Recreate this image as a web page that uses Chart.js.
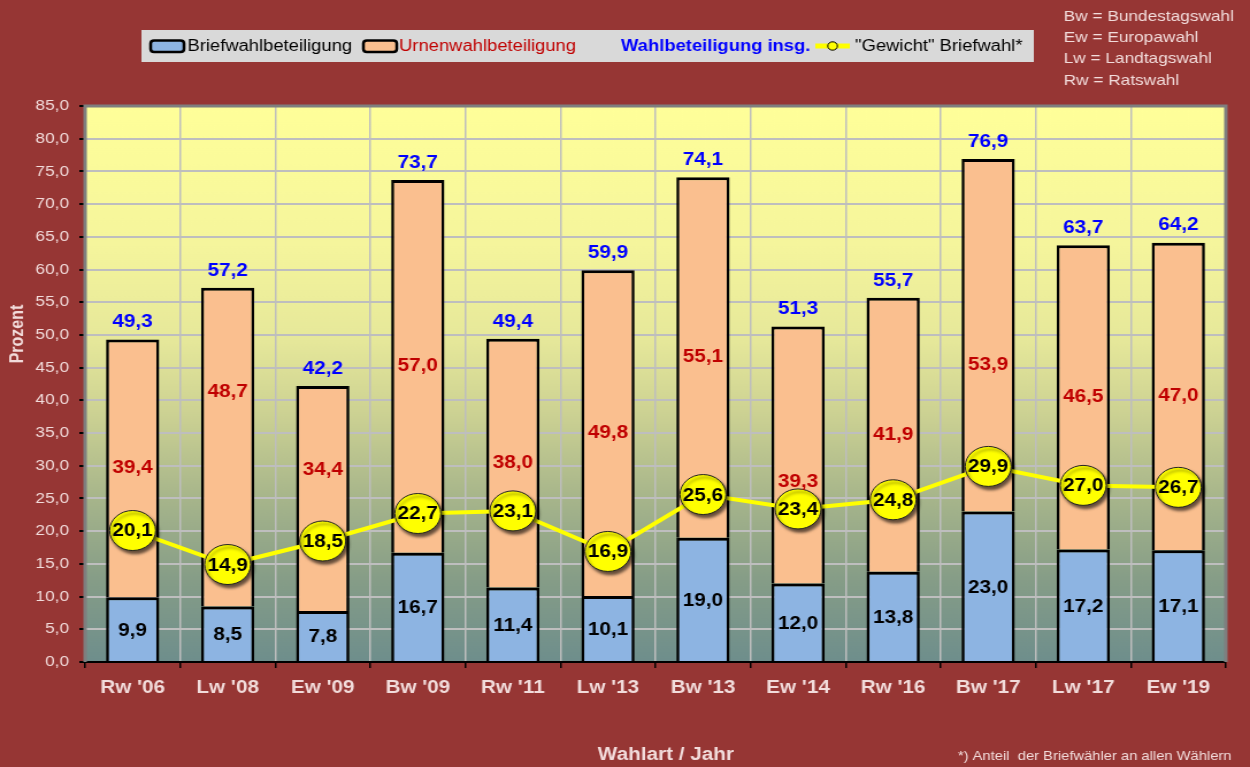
<!DOCTYPE html>
<html><head><meta charset="utf-8">
<script src="https://cdn.jsdelivr.net/npm/chart.js@4.4.1/dist/chart.umd.min.js"></script>
<style>
html,body{margin:0;padding:0;background:#963634;overflow:hidden;width:1250px;height:767px}
#wrap{position:absolute;left:0;top:0;width:1087px;height:767px;transform:scaleX(1.14995);transform-origin:0 0}
canvas{display:block}
</style></head><body>
<div id="wrap"><canvas id="c" width="1087" height="767"></canvas></div>
<script>
const categories = ["Rw '06","Lw '08","Ew '09","Bw '09","Rw '11","Lw '13","Bw '13","Ew '14","Rw '16","Bw '17","Lw '17","Ew '19"];
const briefwahl = [9.9, 8.5, 7.8, 16.7, 11.4, 10.1, 19.0, 12.0, 13.8, 23.0, 17.2, 17.1];
const urnenwahl = [39.4, 48.7, 34.4, 57.0, 38.0, 49.8, 55.1, 39.3, 41.9, 53.9, 46.5, 47.0];
const insgesamt = [49.3, 57.2, 42.2, 73.7, 49.4, 59.9, 74.1, 51.3, 55.7, 76.9, 63.7, 64.2];
const gewicht = [20.1, 14.9, 18.5, 22.7, 23.1, 16.9, 25.6, 23.4, 24.8, 29.9, 27.0, 26.7];
const yMin = 0, yMax = 85, yStep = 5;
const legendLabels = ["Briefwahlbeteiligung", "Urnenwahlbeteiligung", "Wahlbeteiligung insg.", "\"Gewicht\" Briefwahl*"];
const abbreviations = ["Bw = Bundestagswahl", "Ew = Europawahl", "Lw = Landtagswahl", "Rw = Ratswahl"];
const yTitle = "Prozent";
const xTitle = "Wahlart / Jahr";
const footnote = "*) Anteil  der Briefwähler an allen Wählern";

const FAM = '"Liberation Sans", Arial, sans-serif';
Chart.defaults.font.family = FAM;
const fmt = v => Number(v).toFixed(1).replace('.', ',');
const LIGHT = '#F2DCDB';

const bgPlugin = {
  id: 'bg',
  beforeDraw(chart) {
    const {ctx, chartArea: a} = chart;
    ctx.save();
    ctx.fillStyle = '#963634';
    ctx.fillRect(0, 0, chart.width, chart.height);
    const g = ctx.createLinearGradient(0, a.top, 0, a.bottom);
    g.addColorStop(0, '#FFFF99');
    g.addColorStop(0.25, '#F5F59C');
    g.addColorStop(0.42, '#E6E89A');
    g.addColorStop(0.55, '#CDD293');
    g.addColorStop(0.7, '#A8B68B');
    g.addColorStop(0.85, '#869D87');
    g.addColorStop(1, '#6E8E8C');
    ctx.fillStyle = g;
    ctx.fillRect(a.left, a.top, a.right - a.left, a.bottom - a.top);
    ctx.restore();
  },
  beforeDatasetsDraw(chart) {
    const {ctx, chartArea: a} = chart;
    ctx.save();
    ctx.strokeStyle = '#7F7F7F';
    ctx.lineWidth = 3;
    ctx.beginPath();
    ctx.moveTo(a.left, a.bottom);
    ctx.lineTo(a.left, a.top);
    ctx.lineTo(a.right, a.top);
    ctx.lineTo(a.right, a.bottom);
    ctx.stroke();
    ctx.restore();
  }
};

const shadowPlugin = {
  id: 'shadow',
  beforeDatasetDraw(chart, args) {
    if (args.index === 3) {
      const ctx = chart.ctx;
      ctx.save();
      ctx.shadowColor = 'rgba(0,0,0,0.6)';
      ctx.shadowOffsetX = 2;
      ctx.shadowOffsetY = 3;
      ctx.shadowBlur = 3;
    }
  },
  afterDatasetDraw(chart, args) {
    if (args.index === 3) chart.ctx.restore();
  }
};

const labelPlugin = {
  id: 'vlabels',
  afterDatasetsDraw(chart, args, opts) {
    const ctx = chart.ctx, ys = chart.scales.y;
    const mB = chart.getDatasetMeta(0), mU = chart.getDatasetMeta(1), mP = chart.getDatasetMeta(3);
    ctx.save();
    ctx.textAlign = 'center';
    ctx.textBaseline = 'middle';
    ctx.font = 'bold 18px ' + FAM;
    for (let i = 0; i < categories.length; i++) {
      const b = mB.data[i], u = mU.data[i], p = mP.data[i];
      ctx.fillStyle = '#000';
      ctx.fillText(fmt(briefwahl[i]), b.x, ys.getPixelForValue(briefwahl[i] / 2) + 1);
      const mid = briefwahl[i] + urnenwahl[i] / 2 + opts.urneShift[i];
      ctx.fillStyle = '#C00000';
      ctx.fillText(fmt(urnenwahl[i]), u.x, ys.getPixelForValue(mid));
      ctx.fillStyle = '#0000FF';
      ctx.fillText(fmt(insgesamt[i]), u.x, ys.getPixelForValue(insgesamt[i]) - 17);
      ctx.fillStyle = '#000';
      ctx.fillText(fmt(gewicht[i]), p.x, p.y + 1);
    }
    ctx.restore();
  }
};

function rr(ctx, x, y, w, h, r) {
  ctx.beginPath();
  ctx.moveTo(x + r, y);
  ctx.lineTo(x + w - r, y); ctx.quadraticCurveTo(x + w, y, x + w, y + r);
  ctx.lineTo(x + w, y + h - r); ctx.quadraticCurveTo(x + w, y + h, x + w - r, y + h);
  ctx.lineTo(x + r, y + h); ctx.quadraticCurveTo(x, y + h, x, y + h - r);
  ctx.lineTo(x, y + r); ctx.quadraticCurveTo(x, y, x + r, y);
  ctx.closePath();
}

const textPlugin = {
  id: 'texts',
  afterDraw(chart) {
    const ctx = chart.ctx;
    ctx.save();
    ctx.fillStyle = '#D9D9D9';
    ctx.fillRect(123, 30, 776, 32);
    ctx.textBaseline = 'middle';
    ctx.textAlign = 'left';
    const ly = 46.5;
    ctx.lineWidth = 2.5; ctx.strokeStyle = '#000';
    rr(ctx, 131, 40.5, 29, 11.5, 3); ctx.fillStyle = '#8DB4E2'; ctx.fill(); ctx.stroke();
    ctx.font = '16px ' + FAM; ctx.fillStyle = '#000';
    ctx.fillText(legendLabels[0], 163, ly);
    rr(ctx, 316, 40.5, 29, 11.5, 3); ctx.fillStyle = '#FABF8F'; ctx.fill(); ctx.stroke();
    ctx.fillStyle = '#C00000';
    ctx.fillText(legendLabels[1], 347, ly);
    ctx.font = 'bold 16px ' + FAM; ctx.fillStyle = '#0000FF';
    ctx.fillText(legendLabels[2], 540, ly);
    ctx.strokeStyle = '#FFFF00'; ctx.lineWidth = 5;
    ctx.beginPath(); ctx.moveTo(709, ly - 0.5); ctx.lineTo(739, ly - 0.5); ctx.stroke();
    ctx.beginPath(); ctx.arc(724, ly - 0.5, 4.2, 0, Math.PI * 2);
    ctx.fillStyle = '#FFFF00'; ctx.fill(); ctx.lineWidth = 1; ctx.strokeStyle = '#000'; ctx.stroke();
    ctx.font = '16px ' + FAM; ctx.fillStyle = '#000';
    ctx.fillText(legendLabels[3], 743.5, ly);
    ctx.font = '15px ' + FAM; ctx.fillStyle = LIGHT;
    abbreviations.forEach((t, i) => ctx.fillText(t, 925, 16.5 + i * 21.3));
    ctx.textAlign = 'center';
    ctx.font = 'bold 18px ' + FAM;
    ctx.fillText(xTitle, 579, 755, 123);
    ctx.textAlign = 'left';
    ctx.font = '13px ' + FAM;
    ctx.fillText(footnote, 833, 756, 238);
    ctx.save();
    ctx.translate(16, 334);
    ctx.rotate(-Math.PI / 2);
    ctx.textAlign = 'center';
    ctx.font = 'bold 16px ' + FAM;
    ctx.fillText(yTitle, 0, 0);
    ctx.restore();
    ctx.restore();
  }
};

const barBorder = {top: 3, bottom: 3, left: 2.6, right: 2.6};

new Chart(document.getElementById('c'), {
  type: 'bar',
  data: {
    labels: categories,
    datasets: [
      {label: legendLabels[0], data: briefwahl, backgroundColor: '#8DB4E2', borderColor: '#000', borderWidth: barBorder, stack: 's', order: 2, barPercentage: 0.56, categoryPercentage: 1},
      {label: legendLabels[1], data: urnenwahl, backgroundColor: '#FABF8F', borderColor: '#000', borderWidth: barBorder, stack: 's', order: 3, barPercentage: 0.56, categoryPercentage: 1},
      {type: 'line', label: legendLabels[3], data: gewicht, borderColor: '#FFFF00', borderWidth: 4, pointRadius: 0, tension: 0, stack: 'l1', order: 1},
      {type: 'line', label: legendLabels[3] + ' ', data: gewicht, showLine: false, pointRadius: 20, pointBackgroundColor: '#FFFF00', pointBorderColor: '#222', pointBorderWidth: 1, stack: 'l2', order: 0}
    ]
  },
  options: {
    responsive: false,
    animation: false,
    devicePixelRatio: 1,
    layout: {padding: {top: 106, right: 7, left: 0, bottom: 0}},
    plugins: {
      legend: {display: false},
      tooltip: {enabled: false},
      vlabels: {urneShift: [0, 8.4, 4.4, 0, 0, 0, 0, -4.2, 0, -4.5, 0, 0]}
    },
    scales: {
      x: {
        stacked: true,
        grid: {offset: true, color: '#BEBEBE', lineWidth: 1.5, tickLength: 6, tickColor: '#000'},
        border: {display: true, color: '#000', width: 2},
        ticks: {color: LIGHT, font: {size: 18, weight: 'bold'}, padding: 9, autoSkip: false, maxRotation: 0},
        afterFit(s) { s.height = 105; }
      },
      y: {
        stacked: true,
        min: yMin, max: yMax,
        ticks: {stepSize: yStep, callback: v => fmt(v), color: LIGHT, font: {size: 15}, padding: 9, autoSkip: false},
        grid: {color: '#BEBEBE', lineWidth: 2, tickLength: 5, tickColor: '#000'},
        border: {display: false},
        afterFit(s) { s.width = 74; }
      }
    }
  },
  plugins: [bgPlugin, shadowPlugin, labelPlugin, textPlugin]
});
</script>
</body></html>
